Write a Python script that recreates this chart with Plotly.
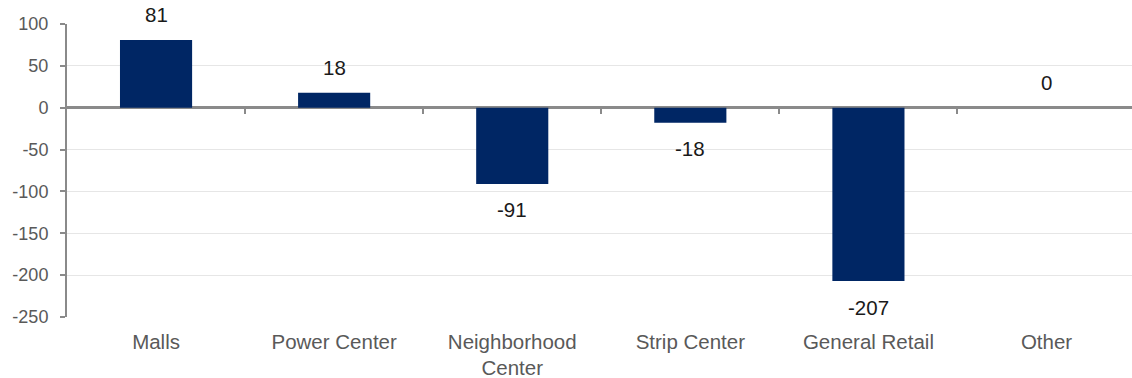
import plotly.graph_objects as go

categories = ["Malls", "Power Center", "Neighborhood<br>Center", "Strip Center", "General Retail", "Other"]
values = [81, 18, -91, -18, -207, 0]
value_labels = ["81", "18", "-91", "-18", "-207", "0"]
y_ticks = [100, 50, 0, -50, -100, -150, -200, -250]

Y_MIN, Y_MAX = -250, 100
X_RANGE = [-0.5, 5.48]
FONT = "Liberation Sans, Arial, sans-serif"
AXIS_GRAY = "#8a8a8a"

fig = go.Figure()
fig.add_trace(go.Bar(
    x=categories, y=values, width=0.405,
    marker=dict(color="#002664", line=dict(width=0)),
    hoverinfo="skip", showlegend=False,
))

# invisible trace so the boundary-tick axis is drawn
fig.add_trace(go.Scatter(
    x=[0.5], y=[0], xaxis="x2", mode="markers",
    marker=dict(opacity=0), hoverinfo="skip", showlegend=False,
))

annotations = []
for c, v, t in zip(categories, values, value_labels):
    up = v >= 0
    annotations.append(dict(
        x=c, y=v, xref="x", yref="y", text=t, showarrow=False,
        yanchor="middle", yshift=25 if up else -26,
        font=dict(family=FONT, size=20.5, color="#1a1a1a"),
    ))

zero_pos = (0 - Y_MIN) / (Y_MAX - Y_MIN)

fig.update_layout(
    width=1132, height=378,
    margin=dict(l=67, r=0, t=24, b=61, autoexpand=False),
    paper_bgcolor="white", plot_bgcolor="white",
    font=dict(family=FONT, color="#595959"),
    annotations=annotations,
    xaxis=dict(
        type="category", range=X_RANGE, showgrid=False, zeroline=False,
        showline=False, ticks="", tickfont=dict(size=20.5, color="#595959"),
        ticklabelstandoff=10, automargin=False,
    ),
    xaxis2=dict(
        overlaying="x", anchor="free", position=zero_pos, type="linear",
        range=X_RANGE, tickvals=[0.5, 1.5, 2.5, 3.5, 4.5],
        ticks="outside", ticklen=5, tickwidth=2, tickcolor=AXIS_GRAY,
        showticklabels=False, showgrid=False, zeroline=False, showline=False,
        automargin=False,
    ),
    yaxis=dict(
        range=[Y_MIN, Y_MAX], tickvals=y_ticks, ticktext=[str(v) for v in y_ticks],
        showgrid=True, gridcolor="#e6e6e6", gridwidth=1,
        zeroline=True, zerolinecolor=AXIS_GRAY, zerolinewidth=2.5,
        showline=True, linecolor=AXIS_GRAY, linewidth=2,
        ticks="outside", ticklen=5, tickwidth=2, tickcolor=AXIS_GRAY,
        tickfont=dict(size=18, color="#595959"), ticklabelstandoff=8,
        automargin=False,
    ),
)

fig.write_html("out.html")
